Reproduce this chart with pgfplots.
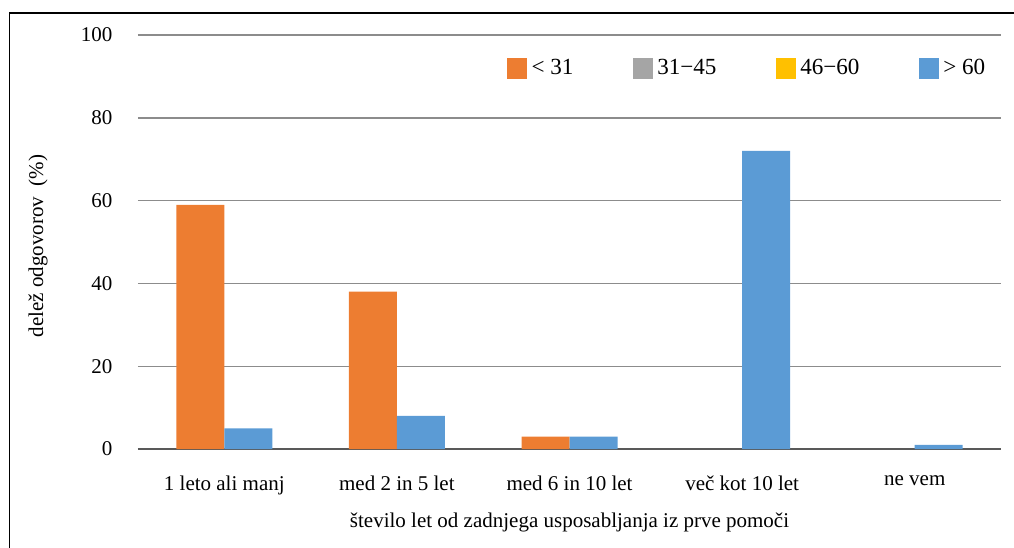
\documentclass[border=0pt]{standalone}
\usepackage{fontspec}
\setmainfont{Liberation Serif}
\usepackage{pgfplots}
\pgfplotsset{compat=1.18}

\definecolor{corange}{HTML}{ED7D31}
\definecolor{cgray}{HTML}{A5A5A5}
\definecolor{cyellow}{HTML}{FFC000}
\definecolor{cblue}{HTML}{5B9BD5}
\definecolor{gridgray}{HTML}{8C8C8C}

% 1 px = 1/2.1 pt
\begin{document}
\begin{tikzpicture}
\path[use as bounding box] (0,0) rectangle (482.86pt,260.95pt);
\draw[black, line width=0.9pt] (4.5pt,0) -- (4.5pt,254.8pt) -- (482.86pt,254.8pt);
\begin{axis}[
    at={(65.7pt,47.14pt)}, anchor=south west,
    scale only axis,
    width=411pt, height=197.1pt,
    xmin=-0.5, xmax=4.5,
    ymin=0, ymax=100,
    ytick={0,20,...,100},
    xtick={0,1,2,3,4},
    xticklabels={1 leto ali manj, med 2 in 5 let, med 6 in 10 let, več kot 10 let, ne vem},
    axis line style={draw=none},
    major tick length=0pt,
    tick style={draw=none},
    ymajorgrids,
    grid style={gridgray, line width=0.6pt},
    extra y ticks={0}, extra y tick labels={},
    extra y tick style={grid style={gray!70!black, line width=0.8pt}},
    /pgf/number format/assume math mode=true,
    yticklabel style={inner sep=0pt, anchor=east, xshift=-12pt, font=\fontsize{10}{12}\selectfont},
    xticklabel style={inner sep=0pt, anchor=north, yshift=-12.4pt, font=\fontsize{10}{12}\selectfont},
    xlabel={število let od zadnjega usposabljanja iz prve pomoči},
    ylabel={delež odgovorov\ \ (\%)},
    xlabel style={at={(axis description cs:0.5,-0.153)}, anchor=north, inner sep=0pt, font=\fontsize{10}{12}\selectfont},
    ylabel style={at={(axis description cs:-0.1158,0.49)}, anchor=center, inner sep=0pt, font=\fontsize{10}{12}\selectfont},
    ybar, bar width=0.278,
    legend columns=4,
    legend style={at={(axis description cs:0.4276,0.919)}, anchor=west, draw=none, fill=none,
        inner sep=0pt, outer sep=0pt,
        font=\fontsize{11}{13}\selectfont,
        /tikz/every even column/.append style={column sep=26.2pt},
        /tikz/every odd column/.append style={column sep=0pt}},
    legend image code/.code={\fill[#1] (0pt,-4.9pt) rectangle (9.7pt,4.9pt);},
]
\addplot[fill=corange, draw=none, bar shift=-0.139] coordinates {
    (0,59) (1,38) (2,3)
};
\addlegendentry{< 31}
\addlegendimage{fill=cgray, draw=none}
\addlegendentry{31−45}
\addlegendimage{fill=cyellow, draw=none}
\addlegendentry{46−60}
\addplot[fill=cblue, draw=none, bar shift=0.139] coordinates {
    (0,5) (1,8) (2,3) (3,72) (4,1)
};
\addlegendentry{> 60}
\end{axis}
\end{tikzpicture}
\end{document}
